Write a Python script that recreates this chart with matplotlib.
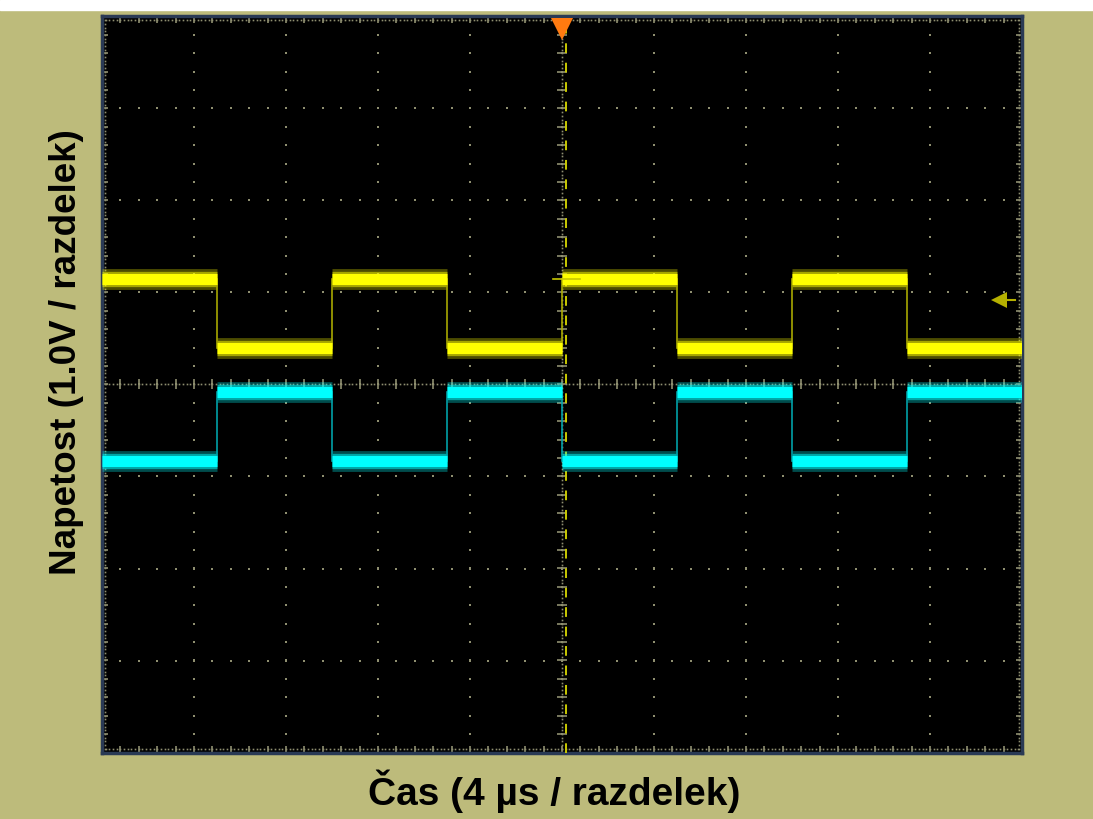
import numpy as np
import matplotlib
matplotlib.use("Agg")
import matplotlib.pyplot as plt

# time base: 4 us / div, 10 div ; volts: 1 V / div, 8 div
edges_us = [-20, -15, -10, -5, 0, 5, 10, 15, 20]
yellow_v = [1.15, 0.40, 1.15, 0.40, 1.15, 0.40, 1.15, 0.40]
cyan_v = [-0.83, -0.08, -0.83, -0.08, -0.83, -0.08, -0.83, -0.08]
cursor_us = 0.17
trig_level_v = 1.15
ch1_ref_v = 0.92

BG = '#bdbb7b'
GRID = '#8f8f70'

fig = plt.figure(figsize=(10.93, 8.19), dpi=100, facecolor=BG)
fig.patches.append(plt.Rectangle((0, 1 - 10 / 819), 1, 10 / 819, transform=fig.transFigure,
                                 color='white', zorder=0))
ax = fig.add_axes([102 / 1093, 66.5 / 819, 920 / 1093, 736 / 819])
ax.set_facecolor('black')
ax.set_xlim(-20, 20)
ax.set_ylim(-4, 4)
ax.set_xticks([])
ax.set_yticks([])
for s in ax.spines.values():
    s.set_color('#2a3a55')
    s.set_linewidth(2.5)

# graticule dots
fine_x = np.arange(-20, 20.001, 0.8)
fine_y = np.arange(-4, 4.001, 0.2)
for gx in range(-16, 17, 4):
    ax.plot(np.full_like(fine_y, gx), fine_y, 's', ms=1.5, color=GRID, mew=0)
for gy in range(-3, 4):
    ax.plot(fine_x, np.full_like(fine_x, gy), 's', ms=1.5, color=GRID, mew=0)

# center cross and border: dense dots with minor ticks
dense_x = np.arange(-20, 20.001, 0.16)
dense_y = np.arange(-4, 4.001, 0.04)
ax.plot(np.zeros_like(dense_y), dense_y, 's', ms=1.2, color=GRID, mew=0)
ax.plot(dense_x, np.zeros_like(dense_x), 's', ms=1.2, color=GRID, mew=0)
ax.plot(np.zeros_like(fine_y), fine_y, '_', ms=7, color=GRID, mew=1.2)
ax.plot(fine_x, np.zeros_like(fine_x), '|', ms=7, color=GRID, mew=1.2)
for bx in (-19.85, 19.85):
    ax.plot(np.full_like(dense_y, bx), dense_y, 's', ms=1.2, color=GRID, mew=0)
    ax.plot(np.full_like(fine_y, bx), fine_y, '_', ms=5, color=GRID, mew=1.2)
for by in (-3.96, 3.96):
    ax.plot(dense_x, np.full_like(dense_x, by), 's', ms=1.2, color=GRID, mew=0)
    ax.plot(fine_x, np.full_like(fine_x, by), '|', ms=5, color=GRID, mew=1.2)

# cursor line
ax.axvline(cursor_us, color='#caca00', lw=1.4, ls=(0, (5, 5)), zorder=3)


def trace(levels, core, edge):
    for i, v in enumerate(levels):
        t0, t1 = edges_us[i], edges_us[i + 1]
        ax.plot([t0, t1], [v, v], color=core, lw=15, alpha=0.3, solid_capstyle='butt', zorder=4)
        ax.plot([t0, t1], [v, v], color=core, lw=11, alpha=0.5, solid_capstyle='butt', zorder=4)
        ax.plot([t0, t1], [v, v], color=core, lw=8, solid_capstyle='butt', zorder=5)
        if i > 0:
            ax.plot([t0, t0], [levels[i - 1], v], color=edge, lw=1.2, zorder=4)


trace(yellow_v, '#ffff00', '#a8a800')
trace(cyan_v, '#00ffff', '#00a0a8')

# trigger level tick and markers
ax.plot([-0.4, 0.8], [trig_level_v, trig_level_v], color='#c8c800', lw=1.2, zorder=6)
ax.plot([0], [3.86], marker='v', ms=16, color='#ff7a10', mew=0, clip_on=False, zorder=7)
ax.plot([19.0], [ch1_ref_v], marker='<', ms=12, color='#b5b000', mew=0, zorder=7)
ax.plot([19.0, 19.7], [ch1_ref_v, ch1_ref_v], color='#b5b000', lw=1.5, zorder=7)

ax.set_xlabel('Čas (4 µs / razdelek)', fontsize=28, fontweight='bold',
              family='Liberation Sans')
ax.set_ylabel('Napetost (1.0V / razdelek)', fontsize=26.5, fontweight='bold',
              family='Liberation Sans')
ax.xaxis.set_label_coords(0.491, -17 / 736)
ax.yaxis.set_label_coords(-18 / 920, 0.544)

fig.savefig('out.png', dpi=100, facecolor=BG)
